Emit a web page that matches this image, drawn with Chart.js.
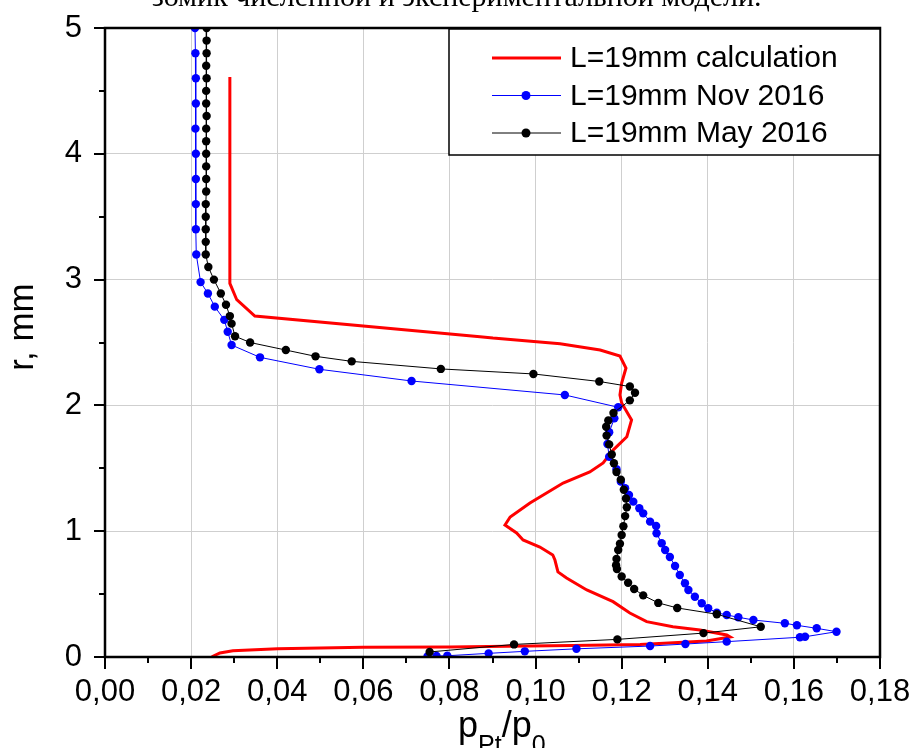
<!DOCTYPE html>
<html>
<head>
<meta charset="utf-8">
<script src="https://cdn.jsdelivr.net/npm/chart.js@4.4.0/dist/chart.umd.min.js"></script>
<style>
html, body { margin: 0; padding: 0; background: #fff; overflow: hidden; }
#wrap { position: relative; width: 917px; height: 748px; }
#chart { position: absolute; left: 0; top: 0; }
#cap { position: absolute; left: 152px; top: -19px; font: 30px/30px "Liberation Serif", serif; white-space: nowrap; color: #000; }
</style>
</head>
<body>
<div id="wrap">
<canvas id="chart" width="917" height="748"></canvas>
<div id="cap">зомик численной и экспериментальной модели.</div>
</div>
<script>
const labels = ['L=19mm calculation', 'L=19mm Nov 2016', 'L=19mm May 2016'];

const calcX = [0.0290, 0.0290, 0.0306, 0.0348, 0.0871, 0.0901, 0.1057, 0.1150, 0.1196, 0.1210, 0.1200, 0.1196,
    0.1200, 0.1223, 0.1212, 0.1180, 0.1157, 0.1126, 0.1064, 0.0987, 0.0941, 0.0929, 0.0956, 0.0971, 0.1010,
    0.1040, 0.1045, 0.1052, 0.1072, 0.1119, 0.1180, 0.1219, 0.1258, 0.1319, 0.1382, 0.1444, 0.1452, 0.1397,
    0.1243, 0.1087, 0.0934, 0.0801, 0.0599, 0.0401, 0.0297, 0.0267, 0.0248];
const calcY = [4.61, 2.97, 2.84, 2.71, 2.546, 2.535, 2.49, 2.44, 2.393, 2.297, 2.178, 2.083,
    2.019, 1.884, 1.751, 1.645, 1.542, 1.471, 1.383, 1.224, 1.113, 1.049, 0.986, 0.930, 0.874,
    0.811, 0.771, 0.676, 0.628, 0.533, 0.440, 0.350, 0.281, 0.241, 0.215, 0.175, 0.159, 0.127,
    0.099, 0.091, 0.085, 0.080, 0.077, 0.066, 0.050, 0.032, 0.002];

const novX = [0.0209, 0.0210, 0.0211, 0.0211, 0.0210, 0.0211, 0.0211, 0.0211, 0.0211, 0.0212,
    0.0222, 0.0239, 0.0255, 0.0277, 0.0285, 0.0294, 0.0360, 0.0498, 0.0712, 0.1068, 0.1192,
    0.1183, 0.1171, 0.1167, 0.1171, 0.1188, 0.1198, 0.1208, 0.1217, 0.1227, 0.1241, 0.1250,
    0.1266, 0.1280, 0.1281, 0.1293, 0.1301, 0.1312, 0.1324, 0.1335, 0.1347, 0.1355, 0.1370,
    0.1386, 0.1401, 0.1421, 0.1444, 0.1471, 0.1506, 0.1579, 0.1607, 0.1653, 0.1699, 0.1626,
    0.1614, 0.1444, 0.1348, 0.1266, 0.1095, 0.0975, 0.0891, 0.0795, 0.0770, 0.0749];
const novY = [5.0, 4.8, 4.6, 4.4, 4.2, 4.0, 3.8, 3.6, 3.4, 3.2,
    2.98, 2.89, 2.785, 2.68, 2.586, 2.48, 2.382, 2.287, 2.194, 2.083, 1.985,
    1.897, 1.786, 1.693, 1.592, 1.492, 1.394, 1.341, 1.288, 1.235, 1.182, 1.142,
    1.076, 1.041, 0.983, 0.904, 0.851, 0.795, 0.723, 0.652, 0.586, 0.533, 0.479,
    0.427, 0.387, 0.352, 0.334, 0.316, 0.294, 0.268, 0.252, 0.228, 0.201, 0.161,
    0.157, 0.122, 0.103, 0.087, 0.065, 0.045, 0.029, 0.010, 0.008, 0.004];

const mayX = [0.0236, 0.0236, 0.0236, 0.0235, 0.0236, 0.0235, 0.0235, 0.0236, 0.0235, 0.0235,
    0.0235, 0.0235, 0.0235, 0.0235, 0.0234, 0.0234, 0.0234, 0.0234, 0.0234, 0.0240, 0.0253,
    0.0269, 0.0281, 0.0290, 0.0294, 0.0302, 0.0337, 0.0420, 0.0489, 0.0573, 0.0780, 0.0995,
    0.1148, 0.1219, 0.1231, 0.1219, 0.1181, 0.1169, 0.1164, 0.1165, 0.1171, 0.1177, 0.1182,
    0.1188, 0.1198, 0.1205, 0.1210, 0.1212, 0.1208, 0.1204, 0.1200, 0.1196, 0.1192, 0.1188,
    0.1187, 0.1189, 0.1200, 0.1215, 0.1229, 0.1250, 0.1285, 0.1329, 0.1421, 0.1523, 0.1390,
    0.1190, 0.0950, 0.0754];
const mayY = [5.0, 4.9, 4.8, 4.7, 4.6, 4.5, 4.4, 4.3, 4.2, 4.1,
    4.0, 3.9, 3.8, 3.7, 3.6, 3.5, 3.4, 3.3, 3.2, 3.10, 3.00,
    2.89, 2.80, 2.71, 2.65, 2.55, 2.50, 2.44, 2.39, 2.35, 2.29, 2.25,
    2.19, 2.15, 2.10, 2.04, 1.94, 1.88, 1.83, 1.76, 1.69, 1.61, 1.54,
    1.47, 1.41, 1.33, 1.26, 1.19, 1.12, 1.04, 0.97, 0.90, 0.85, 0.78,
    0.73, 0.70, 0.64, 0.59, 0.54, 0.49, 0.43, 0.39, 0.34, 0.24, 0.19,
    0.14, 0.10, 0.04];

function toPoints(xs, ys) {
    let data = [];
    for (let i = 0; i < xs.length; i++) {
        data.push({x: xs[i], y: ys[i]});
    }
    return data;
}

const fontName = '"Liberation Sans", Arial, sans-serif';

// frame, minor ticks, axis titles and legend box (Origin style)
let originDecor = {
    id: 'originDecor',
    afterDraw(chart) {
        let ctx = chart.ctx;
        let a = chart.chartArea;
        let sx = chart.scales.x;
        let sy = chart.scales.y;
        ctx.save();
        ctx.strokeStyle = '#000';
        ctx.lineWidth = 2;
        for (let i = 0; i <= 18; i++) {
            let px = Math.round(sx.getPixelForValue(i / 100));
            let len = i % 2 === 0 ? 12 : 6;
            ctx.beginPath();
            ctx.moveTo(px, a.bottom);
            ctx.lineTo(px, a.bottom + len);
            ctx.stroke();
        }
        for (let i = 0; i <= 10; i++) {
            let py = Math.round(sy.getPixelForValue(i / 2));
            let len = i % 2 === 0 ? 11 : 6;
            ctx.beginPath();
            ctx.moveTo(a.left - len, py);
            ctx.lineTo(a.left, py);
            ctx.stroke();
        }
        ctx.lineWidth = 2.5;
        ctx.strokeRect(a.left, a.top, a.right - a.left, a.bottom - a.top);

        // legend
        let lx = a.right - 431, ly = a.top + 1, lw = 431, lh = 126;
        ctx.fillStyle = '#fff';
        ctx.fillRect(lx, ly, lw, lh);
        ctx.lineWidth = 1.5;
        ctx.strokeRect(lx, ly, lw, lh);
        ctx.font = '30px ' + fontName;
        ctx.textBaseline = 'middle';
        ctx.textAlign = 'left';
        chart.data.datasets.forEach((ds, i) => {
            let y = ly + 29 + i * 37.5;
            ctx.strokeStyle = ds.borderColor;
            ctx.lineWidth = ds.borderWidth;
            ctx.beginPath();
            ctx.moveTo(lx + 43, y);
            ctx.lineTo(lx + 112, y);
            ctx.stroke();
            if (ds.pointRadius > 0) {
                ctx.fillStyle = ds.pointBackgroundColor;
                ctx.beginPath();
                ctx.arc(lx + 77, y, 4.5, 0, Math.PI * 2);
                ctx.fill();
            }
            ctx.fillStyle = '#000';
            ctx.fillText(ds.label, lx + 121, y + 1);
        });

        // y title
        ctx.fillStyle = '#000';
        ctx.save();
        ctx.translate(33, 327);
        ctx.rotate(-Math.PI / 2);
        ctx.font = '35px ' + fontName;
        ctx.textAlign = 'center';
        ctx.textBaseline = 'alphabetic';
        ctx.fillText('r, mm', 0, 0);
        ctx.restore();

        // x title p_Pt / p_0
        ctx.textAlign = 'left';
        ctx.textBaseline = 'alphabetic';
        let big = '36px ' + fontName, small = '25px ' + fontName;
        let x = 458, base = 737, sub = 753;
        ctx.font = big; ctx.fillText('p', x, base); x += ctx.measureText('p').width;
        ctx.font = small; ctx.fillText('Pt', x, sub); x += ctx.measureText('Pt').width;
        ctx.font = big; ctx.fillText('/p', x, base); x += ctx.measureText('/p').width;
        ctx.font = small; ctx.fillText('0', x, sub);
        ctx.restore();
    }
};

let ctx = document.getElementById('chart').getContext('2d');
let chart = new Chart(ctx, {
    type: 'scatter',
    data: {
        datasets: [
            {
                label: labels[0],
                data: toPoints(calcX, calcY),
                showLine: true,
                borderColor: 'rgb(255,0,0)',
                backgroundColor: 'rgb(255,0,0)',
                pointBackgroundColor: 'rgb(255,0,0)',
                borderWidth: 3,
                pointRadius: 0,
                order: 3
            },
            {
                label: labels[1],
                data: toPoints(novX, novY),
                showLine: true,
                borderColor: 'rgb(0,0,255)',
                backgroundColor: 'rgb(0,0,255)',
                pointBackgroundColor: 'rgb(0,0,255)',
                pointBorderWidth: 0,
                borderWidth: 1,
                pointRadius: 4.2,
                order: 2
            },
            {
                label: labels[2],
                data: toPoints(mayX, mayY),
                showLine: true,
                borderColor: 'rgb(0,0,0)',
                backgroundColor: 'rgb(0,0,0)',
                pointBackgroundColor: 'rgb(0,0,0)',
                pointBorderWidth: 0,
                borderWidth: 1,
                pointRadius: 4.2,
                order: 1
            }
        ]
    },
    options: {
        responsive: false,
        animation: false,
        devicePixelRatio: 1,
        layout: {padding: {top: 28, right: 37, left: 0, bottom: 0}},
        plugins: {
            legend: {display: false},
            tooltip: {enabled: false}
        },
        scales: {
            x: {
                type: 'linear',
                min: 0,
                max: 0.18,
                border: {display: false},
                grid: {color: '#cfcfcf', lineWidth: 1, drawTicks: false},
                ticks: {
                    stepSize: 0.02,
                    autoSkip: false,
                    maxRotation: 0,
                    minRotation: 0,
                    padding: 17,
                    color: '#000',
                    font: {family: fontName, size: 31},
                    callback: (v) => v.toFixed(2).replace('.', ',')
                },
                afterFit: (s) => { s.height = 91; s.paddingLeft = 0; s.paddingRight = 0; }
            },
            y: {
                type: 'linear',
                min: 0,
                max: 5,
                border: {display: false},
                grid: {color: '#cfcfcf', lineWidth: 1, drawTicks: false},
                ticks: {
                    stepSize: 1,
                    padding: 23,
                    color: '#000',
                    font: {family: fontName, size: 31},
                    callback: (v) => String(v)
                },
                afterFit: (s) => { s.width = 105; s.paddingTop = 0; s.paddingBottom = 0; }
            }
        }
    },
    plugins: [originDecor]
});
</script>
</body>
</html>
